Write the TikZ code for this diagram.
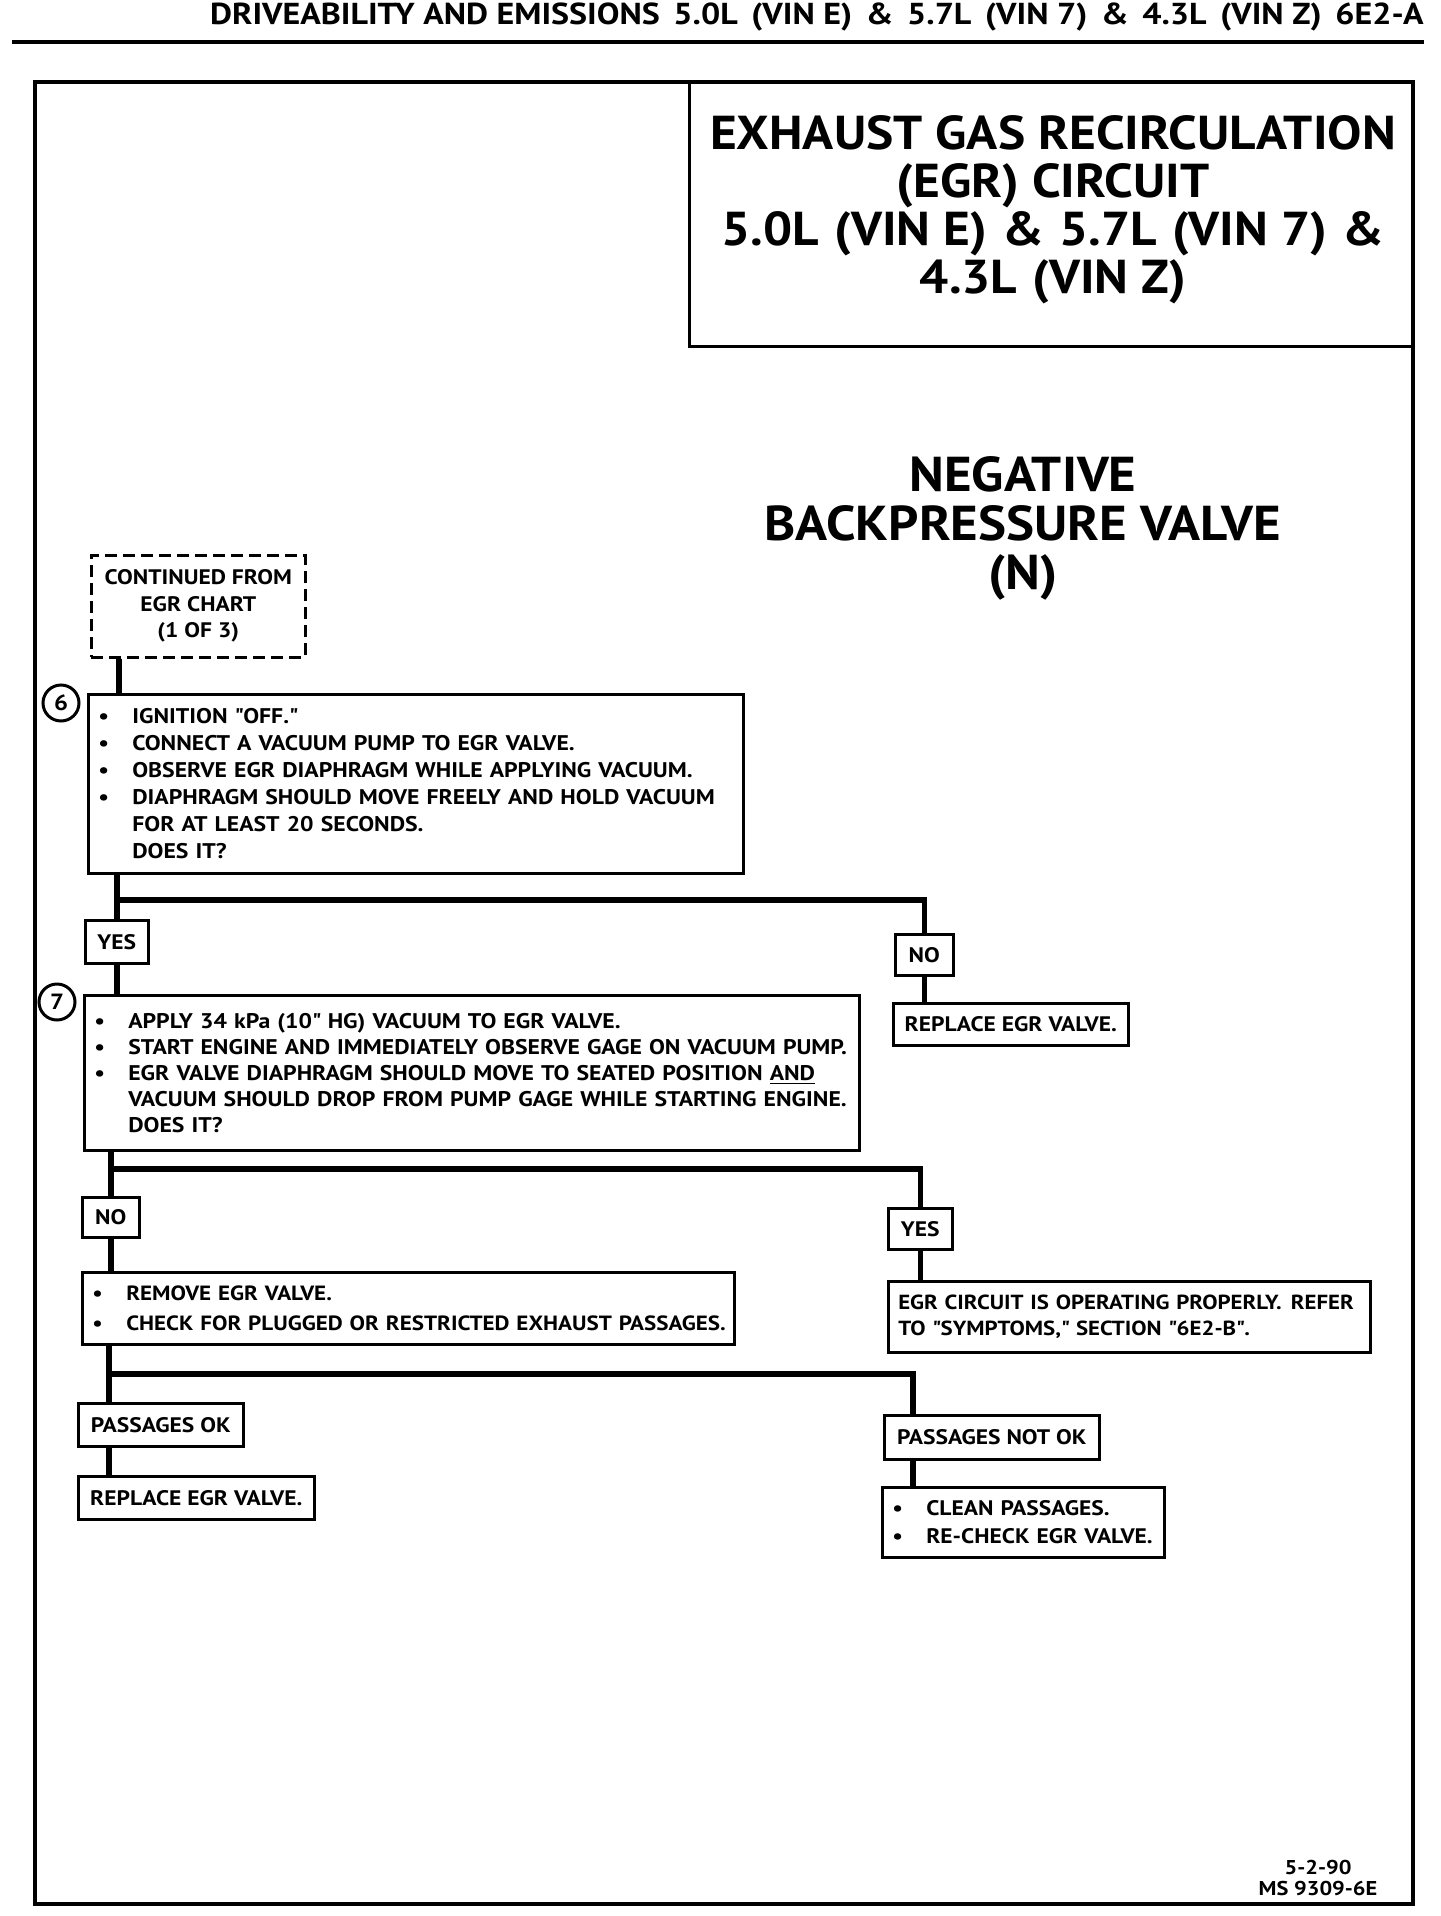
\documentclass[tikz,border=0pt]{standalone}
\usepackage{fontspec}
\setmainfont{PT Sans}
\newfontfamily\wfont{PT Sans}[FakeStretch=1.12]
\newfontfamily\hfont{PT Sans}[FakeStretch=1.08]
\newcommand{\bul}[1]{\mbox{\makebox[17pt][l]{\textbullet}#1}}
\newcommand{\ind}[1]{\mbox{\hspace*{17pt}#1}}
\newcommand{\bfs}[2]{\wfont\bfseries\fontsize{#1}{#2}\selectfont}
\newcommand{\hfs}[2]{\hfont\bfseries\fontsize{#1}{#2}\selectfont}
\newcommand{\gap}{\hspace{0.45em}}
\newcommand{\tgap}{\hspace{0.32em}}
\newcommand{\qq}{\textquotedbl}
\begin{document}
\begin{tikzpicture}[x=0.5pt,y=-0.5pt,
  frm/.style={draw, line width=2pt, inner sep=0pt, anchor=north west},
  box/.style={draw, line width=1.3pt, inner sep=0pt, anchor=north west},
  tbox/.style={box, align=left, inner xsep=5pt},
  conn/.style={line width=2.8pt},
  circ/.style={draw, circle, line width=1.5pt, minimum size=18pt, inner sep=0pt, font=\bfs{11}{13}}]
\useasboundingbox (0,0) rectangle (1440,1916);
\fill[white] (0,0) rectangle (1440,1916);

% header
\node[anchor=east, inner sep=0pt, font=\bfs{15.15}{16}] (hdr) at (1424,17) {DRIVEABILITY AND EMISSIONS\gap 5.0L\gap (VIN E)\gap \&\gap 5.7L\gap (VIN 7)\gap \&\gap 4.3L\gap (VIN Z)\gap 6E2-A};
\coordinate (hl) at (12,42);
\coordinate (hr) at (1424,42);
\draw[line width=1.8pt] (hl) -- (hr);

% frame and title
\node[frm, minimum width=689pt, minimum height=911pt] (frame) at (33,80) {};
\node[draw, line width=1.5pt, inner sep=0pt, anchor=north east, minimum width=362pt, minimum height=132.5pt] (title) at (frame.north east) {};
\node[align=center, font=\hfs{23.8}{24}] (titletext) at (1053,210) {EXHAUST GAS RECIRCULATION\\(EGR) CIRCUIT\\5.0L\tgap (VIN E)\tgap \&\tgap 5.7L\tgap (VIN 7)\tgap \&\\4.3L\tgap (VIN Z)};

\node[align=center, font=\hfs{24.5}{24.5}] (neg) at (1023,528) {NEGATIVE\\BACKPRESSURE VALVE\\(N)};

% boxes
\node[box, dash pattern=on 6pt off 3pt, minimum width=107pt, minimum height=51pt, align=center, font=\bfs{10.5}{13.25}] (cont) at (90,554) {CONTINUED FROM\\EGR CHART\\(1 OF 3)};

\node[tbox, minimum width=327.5pt, minimum height=89.5pt, text width=317.5pt, font=\bfs{10.6}{13.5}] (b6) at (87,693) {\bul{IGNITION \qq OFF.\qq}\\ \bul{CONNECT A VACUUM PUMP TO EGR VALVE.}\\ \bul{OBSERVE EGR DIAPHRAGM WHILE APPLYING VACUUM.}\\ \bul{DIAPHRAGM SHOULD MOVE FREELY AND HOLD VACUUM}\\ \ind{FOR AT LEAST 20 SECONDS.}\\ \ind{DOES IT?}};
\node[circ] (c6) at (61,703) {6};

\node[box, minimum width=31.5pt, minimum height=21.5pt, font=\bfs{10.5}{12}] (yes1) at (84,919) {YES};
\node[box, minimum width=29pt, minimum height=20.5pt, font=\bfs{10.5}{12}] (no1) at (894,933) {NO};
\node[box, minimum width=117.5pt, minimum height=21pt, font=\bfs{10.5}{12}] (rep1) at (892,1002) {REPLACE EGR VALVE.};

\node[tbox, minimum width=387.5pt, minimum height=77.5pt, text width=377.5pt, font=\bfs{10.6}{13}] (b7) at (83,994) {\bul{APPLY 34 kPa (10\qq\ HG) VACUUM TO EGR VALVE.}\\ \bul{START ENGINE AND IMMEDIATELY OBSERVE GAGE ON VACUUM PUMP.}\\ \bul{EGR VALVE DIAPHRAGM SHOULD MOVE TO SEATED POSITION \underline{AND}}\\ \ind{VACUUM SHOULD DROP FROM PUMP GAGE WHILE STARTING ENGINE.}\\ \ind{DOES IT?}};
\node[circ] (c7) at (57,1002) {7};

\node[box, minimum width=28.5pt, minimum height=20pt, font=\bfs{10.5}{12}] (no2) at (81,1196) {NO};
\node[tbox, minimum width=326pt, minimum height=36pt, text width=316pt, font=\bfs{10.3}{15}] (rem) at (81,1271) {\bul{REMOVE EGR VALVE.}\\ \bul{CHECK FOR PLUGGED OR RESTRICTED EXHAUST PASSAGES.}};

\node[box, minimum width=32pt, minimum height=20.5pt, font=\bfs{10.5}{12}] (yes2) at (887,1207) {YES};
\node[tbox, minimum width=241pt, minimum height=35.5pt, text width=231pt, font=\bfs{10.2}{13}] (egrc) at (887,1280) {\mbox{EGR CIRCUIT IS OPERATING PROPERLY.\gap REFER}\\ \mbox{TO \qq SYMPTOMS,\qq\ SECTION \qq 6E2-B\qq.}};

\node[box, minimum width=82.5pt, minimum height=21.5pt, font=\bfs{10.5}{12}] (pok) at (77,1402) {PASSAGES OK};
\node[box, minimum width=118pt, minimum height=21.5pt, font=\bfs{10.5}{12}] (rep2) at (77,1475) {REPLACE EGR VALVE.};
\node[box, minimum width=107.5pt, minimum height=22pt, font=\bfs{10.5}{12}] (pnok) at (883,1414) {PASSAGES NOT OK};
\node[tbox, minimum width=141pt, minimum height=35pt, text width=131pt, font=\bfs{10.5}{14}] (clean) at (881,1486) {\bul{CLEAN PASSAGES.}\\ \bul{RE-CHECK EGR VALVE.}};

\node[align=center, font=\bfs{10}{10.5}] (ftr) at (1318,1878) {5-2-90\\MS 9309-6E};

% connectors
\coordinate (j0) at (119,600);
\coordinate (j1) at (116,900);
\coordinate (j2) at (109,1169);
\coordinate (j3) at (109,1374);
\coordinate (j3r) at (913,1374);
\draw[conn] (cont.south -| j0) -- (b6.north -| j0);
\draw[conn] (b6.south -| yes1) -- (yes1.north);
\draw[conn] (yes1 |- j1) -| (no1.north);
\draw[conn] (no1.south) -- (rep1.north -| no1);
\draw[conn] (yes1.south) -- (b7.north -| yes1);
\draw[conn] (b7.south -| no2) -- (no2.north);
\draw[conn] (no2 |- j2) -| (yes2.north);
\draw[conn] (no2.south) -- (rem.north -| no2);
\draw[conn] (yes2.south) -- (egrc.north -| yes2);
\draw[conn] (rem.south -| j3) -- (pok.north -| j3);
\draw[conn] (j3) -- (j3r) -- (pnok.north -| j3r);
\draw[conn] (pok.south -| j3) -- (rep2.north -| j3);
\draw[conn] (pnok.south -| j3r) -- (clean.north -| j3r);
\end{tikzpicture}
\end{document}
